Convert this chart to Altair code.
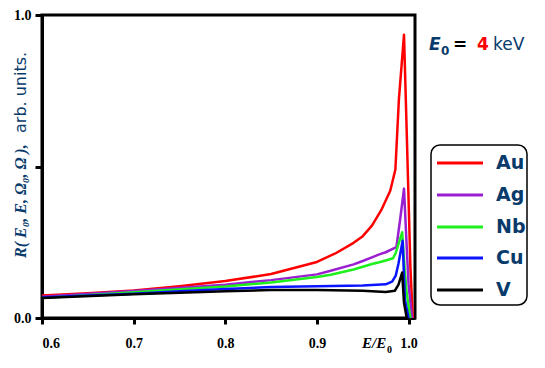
import altair as alt
import pandas as pd

metals = ["Au", "Ag", "Nb", "Cu", "V"]
colors = ["#ff0000", "#9a1fd0", "#1ef01e", "#0a14ff", "#000000"]

au_x = [0.6, 0.65, 0.7, 0.75, 0.8, 0.85, 0.9, 0.92, 0.94, 0.95, 0.96, 0.97, 0.98, 0.9856, 0.9894, 0.995, 0.998, 1.002, 1.0046]
au_y = [0.074, 0.082, 0.091, 0.105, 0.122, 0.145, 0.185, 0.213, 0.248, 0.27, 0.305, 0.355, 0.42, 0.49, 0.72, 0.935, 0.61, 0.166, 0.0]

ag_x = [0.6, 0.7, 0.8, 0.85, 0.9, 0.915, 0.94, 0.95, 0.96, 0.968, 0.975, 0.9867, 0.991, 0.995, 0.9985, 1.0, 1.0038]
ag_y = [0.07, 0.089, 0.11, 0.125, 0.144, 0.156, 0.177, 0.188, 0.2, 0.21, 0.217, 0.234, 0.33, 0.427, 0.2, 0.11, 0.0]

nb_x = [0.6, 0.7, 0.8, 0.85, 0.9, 0.915, 0.94, 0.96, 0.968, 0.975, 0.983, 0.986, 0.993, 0.996, 0.998, 1.002]
nb_y = [0.066, 0.085, 0.104, 0.117, 0.135, 0.143, 0.16, 0.178, 0.184, 0.19, 0.197, 0.215, 0.283, 0.15, 0.08, 0.0]

cu_x = [0.6, 0.65, 0.7, 0.75, 0.8, 0.85, 0.9, 0.95, 0.975, 0.982, 0.986, 0.989, 0.9935, 0.996, 1.0]
cu_y = [0.068, 0.074, 0.08, 0.088, 0.096, 0.102, 0.105, 0.107, 0.111, 0.12, 0.14, 0.18, 0.255, 0.06, 0.0]

v_x = [0.6, 0.7, 0.8, 0.85, 0.9, 0.95, 0.975, 0.985, 0.989, 0.993, 0.995, 0.998]
v_y = [0.066, 0.078, 0.088, 0.092, 0.092, 0.09, 0.086, 0.09, 0.11, 0.15, 0.05, 0.0]

series = {"Au": (au_x, au_y), "Ag": (ag_x, ag_y), "Nb": (nb_x, nb_y),
          "Cu": (cu_x, cu_y), "V": (v_x, v_y)}

rows = []
for m in metals:
    xs, ys = series[m]
    for x, y in zip(xs, ys):
        rows.append({"metal": m, "e": x, "r": y})
df = pd.DataFrame(rows)

x_ticks = [0.6, 0.7, 0.8, 0.9, 1.0]
y_ticks = [0.0, 0.5, 1.0]

NAVY = "#083a6b"

lines = alt.Chart(df).mark_line(strokeWidth=2.5, strokeJoin="round").encode(
    x=alt.X("e:Q", scale=alt.Scale(domain=[0.6, 1.007], nice=False, zero=False),
            axis=alt.Axis(values=x_ticks, format=".1f", title=None, grid=False,
                          labelFont="Liberation Serif", labelFontWeight="bold",
                          labelFontSize=14, labelColor="black", tickSize=6,
                          tickWidth=3, tickColor="black", labelPadding=12,
                          domainColor="black", domainWidth=3)),
    y=alt.Y("r:Q", scale=alt.Scale(domain=[0, 1], nice=False),
            axis=alt.Axis(values=y_ticks, title=None, grid=False,
                          labelExpr="datum.value == 0.5 ? '' : format(datum.value, '.1f')",
                          labelFont="Liberation Serif", labelFontWeight="bold",
                          labelFontSize=14, labelColor="black", tickSize=7,
                          tickWidth=3, tickColor="black", labelPadding=4,
                          domainColor="black", domainWidth=3)),
    color=alt.Color("metal:N", scale=alt.Scale(domain=metals, range=colors), legend=None),
)

def txt(text, x, y, size, color, font="DejaVu Sans", weight="bold", style="normal",
        align="left", angle=0):
    return alt.Chart(pd.DataFrame({"t": [text]})).mark_text(
        font=font, fontSize=size, fontWeight=weight, fontStyle=style, color=color,
        align=align, baseline="middle", angle=angle
    ).encode(x=alt.value(x), y=alt.value(y), text="t:N")

one = pd.DataFrame({"a": [0]})

# legend box
legend_box = alt.Chart(one).mark_rect(
    fill="white", stroke="black", strokeWidth=1.5, cornerRadius=9
).encode(x=alt.value(389), x2=alt.value(485), y=alt.value(130), y2=alt.value(290))

legend_y = [148, 180, 212, 243, 275]
legend_layers = [legend_box]
for m, c, ly in zip(metals, colors, legend_y):
    legend_layers.append(
        alt.Chart(one).mark_rule(color=c, strokeWidth=3).encode(
            x=alt.value(395), x2=alt.value(441), y=alt.value(ly))
    )
    legend_layers.append(txt(m, 454, ly, 19, NAVY))

ann = [
    txt("E", 387, 30, 17, NAVY, style="italic"),
    txt("0", 399, 36, 12, NAVY),
    txt("=", 411, 30, 17, "black"),
    txt("4", 435, 30, 17, "#ff0000"),
    txt("keV", 451, 30, 17, NAVY, weight="normal"),
    txt("E/E", 320, 328, 15, "black", font="Liberation Serif", style="italic"),
    txt("0", 345, 335, 10, "black", font="Liberation Serif"),
    txt("R( E\u2080, E, \u03a9\u2080, \u03a9 ),", -21, 243, 16, NAVY,
        font="Liberation Serif", style="italic", angle=270),
    txt("arb. units.", -21, 118, 16, NAVY, weight="normal", angle=270),
]

chart = alt.layer(lines, *legend_layers, *ann).properties(
    width=373, height=303,
    autosize=alt.AutoSizeParams(type="none"),
    padding={"left": 34, "top": 7, "right": 120, "bottom": 40},
).configure_view(stroke="black", strokeWidth=3)

chart.save("out.html", embed_options={"renderer": "svg", "actions": False})
